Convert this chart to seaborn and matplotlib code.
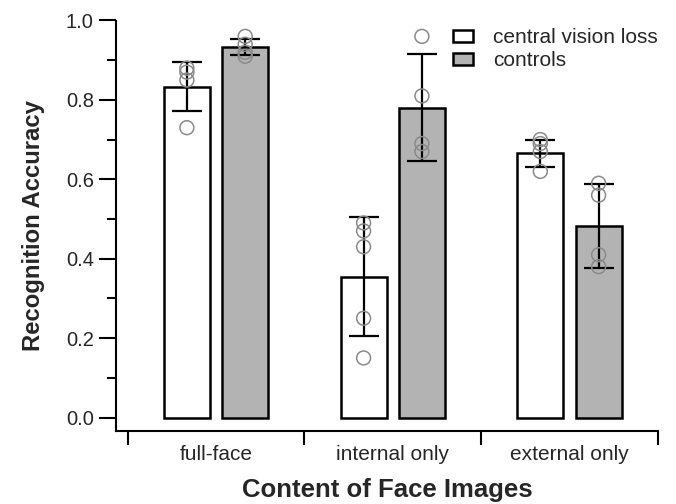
import numpy as np
import pandas as pd
import matplotlib
matplotlib.use("Agg")
import matplotlib.pyplot as plt
from matplotlib.patches import Patch
from matplotlib.ticker import MultipleLocator, FixedLocator, NullFormatter
import seaborn as sns

# values
conditions = ["full-face", "internal only", "external only"]
groups = ["central vision loss", "controls"]

cvl_mean = [0.833, 0.355, 0.665]
cvl_err = [0.062, 0.150, 0.033]
ctl_mean = [0.933, 0.780, 0.482]
ctl_err = [0.020, 0.135, 0.105]

# individual observers (open circles)
cvl_points = [
    [0.88, 0.87, 0.85, 0.73],
    [0.49, 0.47, 0.43, 0.25, 0.15],
    [0.70, 0.69, 0.67, 0.62],
]
ctl_points = [
    [0.96, 0.94, 0.92, 0.91],
    [0.96, 0.81, 0.69, 0.67],
    [0.59, 0.56, 0.41, 0.38],
]

GRAY = "#b3b3b3"
POINT_GRAY = "#8a8a8a"

sns.set_style("ticks")
plt.rcParams["font.family"] = ["Liberation Sans", "DejaVu Sans"]

df = pd.DataFrame({
    "condition": conditions * 2,
    "group": [groups[0]] * 3 + [groups[1]] * 3,
    "accuracy": cvl_mean + ctl_mean,
})

fig = plt.figure(figsize=(6.76, 5.04), dpi=100)
ax = fig.add_axes([116 / 676, 73 / 504, 542 / 676, 410.5 / 504])

sns.barplot(data=df, x="condition", y="accuracy", hue="group",
            order=conditions, hue_order=groups,
            palette={groups[0]: "white", groups[1]: GRAY},
            edgecolor="black", linewidth=1.8, width=0.66, gap=0.21,
            errorbar=None, legend=False, ax=ax, zorder=2)

# error bars and points at the centre of each bar
all_err = [cvl_err, ctl_err]
all_pts = [cvl_points, ctl_points]
bar_conts = list(ax.containers)
for gi, cont in enumerate(bar_conts):
    for ci, bar in enumerate(cont):
        xc = bar.get_x() + bar.get_width() / 2
        ax.errorbar(xc, bar.get_height(), yerr=all_err[gi][ci], color="black",
                    lw=1.6, capsize=11, capthick=1.6, zorder=3)
        pts = all_pts[gi][ci]
        ax.scatter([xc] * len(pts), pts, s=100, facecolors="none",
                   edgecolors=POINT_GRAY, linewidths=1.1, zorder=4)

ax.set_xlim(-0.566, 2.501)

sns.despine(ax=ax)
for sp in ["left", "bottom"]:
    ax.spines[sp].set_linewidth(1.5)
    ax.spines[sp].set_color("black")

ax.yaxis.set_major_locator(MultipleLocator(0.2))
ax.yaxis.set_minor_locator(MultipleLocator(0.1))
ax.set_yticks(ax.get_yticks())
ax.set_yticklabels([f"{v:.1f}" for v in ax.get_yticks()])
ax.set_ylim(-0.034, 1.0)
ax.tick_params(axis="y", which="major", length=12, width=1.5, labelsize=14.5, pad=4, color="black")
ax.tick_params(axis="y", which="minor", length=6.5, width=1.5, color="black")

# group boundary ticks, labels in between
ax.xaxis.set_major_locator(FixedLocator([-0.5, 0.5, 1.5, 2.5]))
ax.xaxis.set_major_formatter(NullFormatter())
ax.xaxis.set_minor_locator(FixedLocator([0, 1, 2]))
ax.set_xticklabels(conditions, minor=True)
ax.tick_params(axis="x", which="major", length=10, width=1.5, color="black")
ax.tick_params(axis="x", which="minor", length=0, labelsize=15, pad=10)

ax.set_xlabel("Content of Face Images", fontsize=18.5, fontweight="bold", labelpad=10)
ax.set_ylabel("Recognition Accuracy", fontsize=17.2, fontweight="bold", labelpad=15)

handles = [Patch(facecolor="white", edgecolor="black", linewidth=1.8),
           Patch(facecolor=GRAY, edgecolor="black", linewidth=1.8)]
ax.legend(handles, groups, loc="upper left", bbox_to_anchor=(0.622, 0.981),
          frameon=False, fontsize=15, handlelength=0.95, handleheight=0.55,
          handletextpad=0.95, labelspacing=0.2, borderpad=0, borderaxespad=0)

fig.savefig("out.png", dpi=100)
